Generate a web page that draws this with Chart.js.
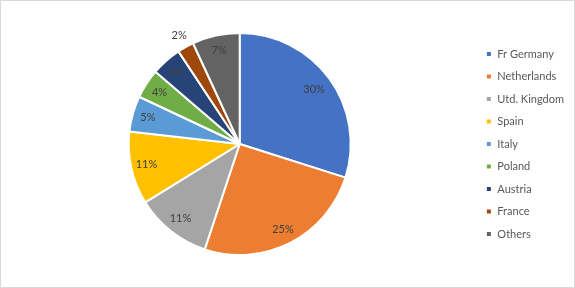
<!DOCTYPE html>
<html>
<head>
<meta charset="utf-8">
<script src="https://cdn.jsdelivr.net/npm/chart.js@4/dist/chart.umd.min.js"></script>
<style>
  html, body { margin: 0; padding: 0; background: #fff; }
  #wrap { width: 573px; height: 286px; border: 1px solid #d9d9d9; position: relative; }
</style>
</head>
<body>
<div id="wrap"><canvas id="pieChart"></canvas></div>
<script>
// countries and their shares
const countries = ['Fr Germany','Netherlands','Utd. Kingdom','Spain','Italy','Poland','Austria','France','Others'];
const shares = [29.9, 25.2, 11.1, 10.6, 5.2, 4.3, 4.4, 2.4, 6.9];
const colors = ['#4472C4','#ED7D31','#A5A5A5','#FFC000','#5B9BD5','#70AD47','#264478','#9E480E','#636363'];

// draws the percent labels on the slices, the tiny one goes outside
const sliceLabels = {
    id: 'sliceLabels',
    afterDatasetsDraw(chart) {
        const ctx = chart.ctx;
        const meta = chart.getDatasetMeta(0);
        const total = shares.reduce((a, b) => a + b, 0);
        ctx.save();
        ctx.font = '11px Lato, "Liberation Sans", sans-serif';
        ctx.fillStyle = '#404040';
        ctx.textAlign = 'center';
        ctx.textBaseline = 'middle';
        meta.data.forEach((arc, i) => {
            const p = arc.getProps(['x','y','startAngle','endAngle','outerRadius'], true);
            const mid = (p.startAngle + p.endAngle) / 2;
            const pct = shares[i] / total * 100;
            let r = p.outerRadius * 0.86;
            if (pct < 3) r = p.outerRadius * 1.12;
            if (i === 0) r = p.outerRadius * 0.83;
            ctx.fillText(Math.round(pct) + '%', p.x + Math.cos(mid) * r, p.y + Math.sin(mid) * r);
        });
        ctx.restore();
    }
};

const ctx = document.getElementById('pieChart').getContext('2d');
new Chart(ctx, {
    type: 'pie',
    data: {
        labels: countries,
        datasets: [{ data: shares, backgroundColor: colors, borderColor: '#fff', borderWidth: 2 }]
    },
    options: {
        responsive: true,
        maintainAspectRatio: false,
        animation: false,
        layout: { padding: { top: 31, bottom: 31, left: 4, right: 0 } },
        plugins: {
            legend: {
                position: 'right',
                labels: {
                    boxWidth: 6, boxHeight: 6, padding: 11.5,
                    color: '#595959',
                    font: { size: 11, family: 'Lato, "Liberation Sans", sans-serif' }
                }
            },
            tooltip: { enabled: false }
        }
    },
    plugins: [sliceLabels]
});
</script>
</body>
</html>
